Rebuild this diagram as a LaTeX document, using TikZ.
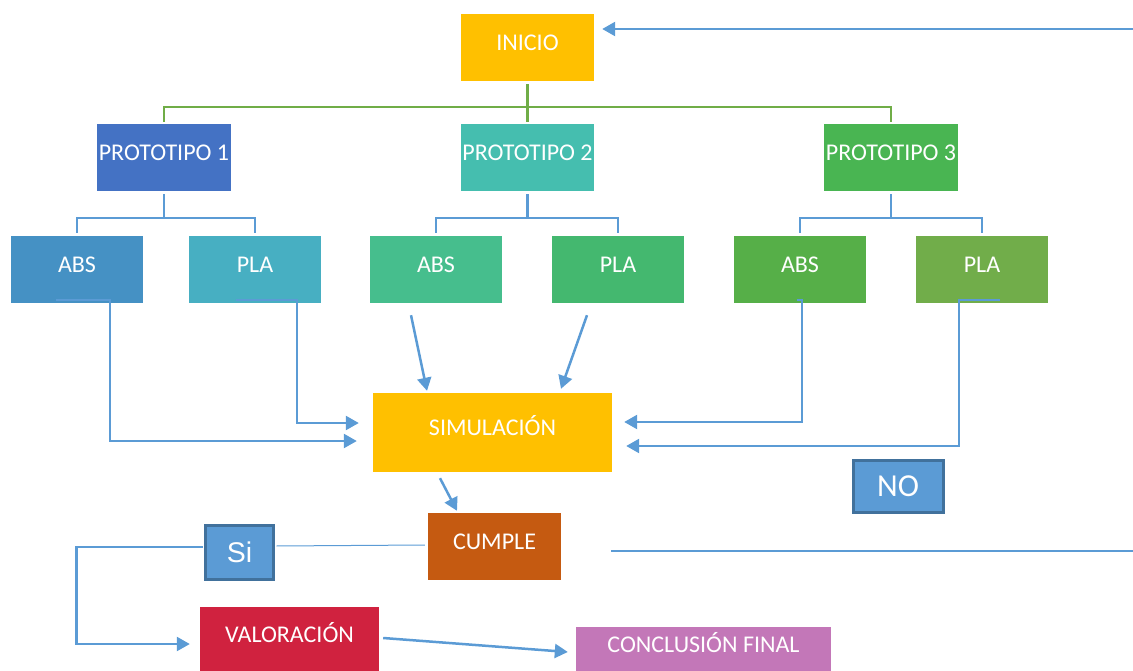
\documentclass[tikz,border=0pt]{standalone}
\usepackage{fontspec}
\setmainfont{Carlito}
\newfontfamily\arialf{Liberation Sans}
\usetikzlibrary{arrows.meta}
\definecolor{cYel}{HTML}{FFC000}
\definecolor{cP1}{HTML}{4472C4}
\definecolor{cP2}{HTML}{45BEAF}
\definecolor{cP3}{HTML}{49B552}
\definecolor{cA1}{HTML}{4591C4}
\definecolor{cL1}{HTML}{47AFC2}
\definecolor{cA2}{HTML}{46BE8D}
\definecolor{cL2}{HTML}{44B86F}
\definecolor{cA3}{HTML}{56AF48}
\definecolor{cL3}{HTML}{71AD4A}
\definecolor{cCum}{HTML}{C55A11}
\definecolor{cVal}{HTML}{D0223F}
\definecolor{cCon}{HTML}{C377B8}
\definecolor{cBlue}{HTML}{5B9BD5}
\definecolor{cBord}{HTML}{41719C}
\definecolor{cGreen}{HTML}{70AD47}
\begin{document}
\begin{tikzpicture}[x=1pt,y=-1pt,
  box/.style={rectangle,inner sep=0pt,draw=none,text=white,
    font=\fontsize{24}{28}\selectfont,text height=16pt,text depth=10pt,
    minimum width=133pt,minimum height=67pt},
  ynbox/.style={rectangle,inner sep=0pt,fill=cBlue,draw=cBord,line width=3pt,text=white},
  tree/.style={draw=cGreen,line width=2.5pt},
  btree/.style={draw=cBlue,line width=2.5pt},
  arr/.style={draw=cBlue,line width=2.5pt,-{Triangle[length=13pt,width=14pt]}},
  plain/.style={draw=cBlue,line width=2.5pt}]
\useasboundingbox (0,0) rectangle (1133,671);
% nodes
\node[box,fill=cYel] (inicio) at (527.5,47.5) {INICIO};
\node[box,fill=cP1,minimum width=134pt] (p1) at (164,157.5) {PROTOTIPO 1};
\node[box,fill=cP2] (p2) at (527.5,157.5) {PROTOTIPO 2};
\node[box,fill=cP3,minimum width=134pt] (p3) at (891,157.5) {PROTOTIPO 3};
\node[box,fill=cA1,minimum width=132pt] (abs1) at (77,269.5) {ABS};
\node[box,fill=cL1,minimum width=132pt] (pla1) at (255,269.5) {PLA};
\node[box,fill=cA2,minimum width=132pt] (abs2) at (436,269.5) {ABS};
\node[box,fill=cL2,minimum width=132pt] (pla2) at (618,269.5) {PLA};
\node[box,fill=cA3,minimum width=132pt] (abs3) at (800,269.5) {ABS};
\node[box,fill=cL3,minimum width=132pt] (pla3) at (982,269.5) {PLA};
\node[box,fill=cYel,minimum width=239pt,minimum height=79pt] (sim) at (492.5,432.5) {SIMULACIÓN};
\node[box,fill=cCum] (cumple) at (494.5,546.5) {CUMPLE};
\node[ynbox,minimum width=68pt,minimum height=54pt,font=\arialf\fontsize{28.5}{32}\selectfont] (si) at (239.5,552.5) {Si};
\node[ynbox,minimum width=90pt,minimum height=52pt,font=\fontsize{32}{36}\selectfont] (no) at (898,486.5) {NO};
\node[box,fill=cVal,minimum width=179pt,minimum height=64pt] (val) at (289.5,639) {VALORACIÓN};
\node[box,fill=cCon,minimum width=255pt,minimum height=44pt] (concl) at (703.5,649) {CONCLUSIÓN FINAL};
% green tree
\draw[tree] ([yshift=-3pt]inicio.south) -- ++(0,23) -| ([yshift=2pt]p1.north);
\draw[tree] ([yshift=-3pt]inicio.south) -- ([yshift=2pt]p2.north);
\draw[tree] ([yshift=-3pt]inicio.south) -- ++(0,23) -| ([yshift=2pt]p3.north);
% blue trees
\draw[btree] ([yshift=-3pt]p1.south) -- ++(0,24) -| ([yshift=3pt]abs1.north);
\draw[btree] ([yshift=-3pt]p1.south) -- ++(0,24) -| ([yshift=3pt]pla1.north);
\draw[btree] ([yshift=-3pt]p2.south) -- ++(0,24) -| ([yshift=3pt]abs2.north);
\draw[btree] ([yshift=-3pt]p2.south) -- ++(0,24) -| ([yshift=3pt]pla2.north);
\draw[btree] ([yshift=-3pt]p3.south) -- ++(0,24) -| ([yshift=3pt]abs3.north);
\draw[btree] ([yshift=-3pt]p3.south) -- ++(0,24) -| ([yshift=3pt]pla3.north);
% arrows into simulacion
\draw[arr] ([xshift=-21pt,yshift=3pt]abs1.south) -- ([xshift=33pt,yshift=3pt]abs1.south) |- ([xshift=-16pt,yshift=-8.5pt]sim.west);
\draw[arr] ([xshift=-19pt,yshift=3pt]pla1.south) -- ([xshift=42pt,yshift=3pt]pla1.south) |- ([xshift=-14pt,yshift=9.5pt]sim.west);
\draw[arr] ([xshift=-25pt,yshift=-12pt]abs2.south) -- ([xshift=-65.5pt,yshift=2pt]sim.north);
\draw[arr] ([xshift=-31pt,yshift=-12pt]pla2.south) -- ([xshift=68.5pt,yshift=4pt]sim.north);
\draw[arr] ([xshift=-3pt,yshift=3pt]abs3.south) -- ([xshift=2pt,yshift=3pt]abs3.south) |- ([xshift=12pt,yshift=10.5pt]sim.east);
\draw[arr] ([xshift=18pt,yshift=3pt]pla3.south) -- ([xshift=-23pt,yshift=3pt]pla3.south) |- ([xshift=14pt,yshift=-13.5pt]sim.east);
% simulacion to cumple
\draw[arr] ([xshift=-52.5pt,yshift=-6pt]sim.south) -- ([xshift=-37.5pt,yshift=2pt]cumple.north);
% cumple - si
\draw[draw=cBlue,line width=1pt] ([xshift=-3pt,yshift=1.5pt]cumple.west) -- ([xshift=1.5pt,yshift=6.5pt]si.east);
% si to valoracion
\draw[arr] ([xshift=-1.5pt,yshift=5.5pt]si.west) -- ++(-126,0) |- ([xshift=-10pt,yshift=-5pt]val.west);
% valoracion to conclusion
\draw[arr] ([xshift=4pt,yshift=1pt]val.east) -- ([xshift=-8pt,yshift=-3pt]concl.west);
% loop back to inicio
\coordinate (topR) at (1133,29);
\draw[arr] (topR) -- ([xshift=8pt,yshift=18.5pt]inicio.east);
\coordinate (botL) at (611,551);
\coordinate (botR) at (1133,551);
\draw[plain] (botL) -- (botR);
\end{tikzpicture}
\end{document}
